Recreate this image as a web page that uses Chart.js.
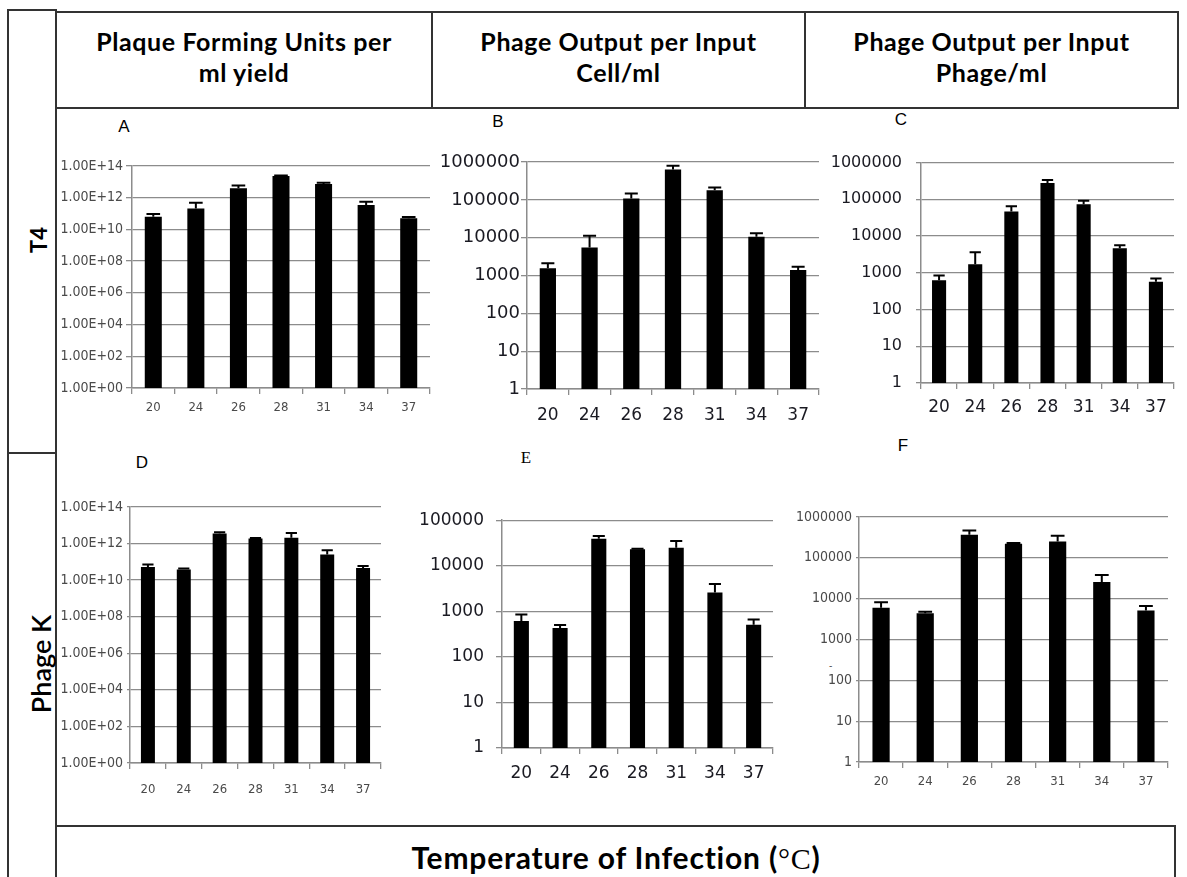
<!DOCTYPE html>
<html>
<head>
<meta charset="utf-8">
<script src="https://cdn.jsdelivr.net/npm/chart.js@4.4.1/dist/chart.umd.min.js"></script>
<style>
  html, body { margin:0; padding:0; background:#fff; }
  body { width:1187px; height:877px; position:relative; overflow:hidden; }
  .ln { position:absolute; background:#333; }
  .txt { position:absolute; white-space:nowrap; color:#000; }
  .hdr { font-family: Lato, "Open Sans", sans-serif; font-weight:700; font-size:25px; letter-spacing:0.6px; text-align:center; line-height:31px; }
  .let { font-family: "Liberation Sans", Arial, sans-serif; font-size:17px; transform:translate(-50%,-50%); }
  canvas { position:absolute; }
</style>
</head>
<body>
<!-- frame lines -->
<div class="ln" style="left:7px;top:9px;width:2px;height:870px"></div>
<div class="ln" style="left:7px;top:9px;width:50px;height:2px"></div>
<div class="ln" style="left:55px;top:9px;width:2px;height:870px"></div>
<div class="ln" style="left:7px;top:452px;width:50px;height:2px"></div>
<div class="ln" style="left:55px;top:11px;width:1124px;height:2px"></div>
<div class="ln" style="left:55px;top:107px;width:1124px;height:2px"></div>
<div class="ln" style="left:1177px;top:11px;width:2px;height:98px"></div>
<div class="ln" style="left:431px;top:11px;width:2px;height:98px"></div>
<div class="ln" style="left:804px;top:11px;width:2px;height:98px"></div>
<div class="ln" style="left:55px;top:825px;width:1121px;height:2px"></div>
<div class="ln" style="left:1174px;top:825px;width:2px;height:60px"></div>

<!-- header texts -->
<div class="txt hdr" style="left:57px;top:26px;width:374px;">Plaque Forming Units per<br>ml yield</div>
<div class="txt hdr" style="left:433px;top:26px;width:371px;">Phage Output per Input<br>Cell/ml</div>
<div class="txt hdr" style="left:806px;top:26px;width:371px;">Phage Output per Input<br>Phage/ml</div>

<!-- row labels -->
<div class="txt" style="left:38px;top:240px;transform:translate(-50%,-50%) rotate(-90deg);font-family:Lato,sans-serif;font-weight:700;font-size:22px;">T4</div>
<div class="txt" style="left:40px;top:664px;transform:translate(-50%,-50%) rotate(-90deg);font-family:Lato,sans-serif;font-weight:600;font-size:27px;">Phage K</div>

<!-- bottom title -->
<div class="txt" style="left:616px;top:857px;transform:translate(-50%,-50%);font-family:Lato,sans-serif;font-weight:700;font-size:30px;letter-spacing:0.8px;">Temperature of Infection (<span style="font-family:'Liberation Serif',serif;font-weight:400;">°C</span>)</div>

<!-- panel letters -->
<div class="txt let" style="left:124px;top:127px;">A</div>
<div class="txt let" style="left:498px;top:122px;">B</div>
<div class="txt let" style="left:901px;top:120px;">C</div>
<div class="txt let" style="left:142px;top:463px;">D</div>
<div class="txt let" style="left:526px;top:458px;font-family:'Liberation Serif',serif;">E</div>
<div class="txt let" style="left:903px;top:446px;">F</div>
<div class="txt" style="left:829px;top:660px;font-family:'Liberation Sans',sans-serif;font-size:10px;color:#555;">-</div>

<script>
// ---------------- DATA ----------------
const temperatures = ['20', '24', '26', '28', '31', '34', '37'];

// T4 (top row)
const t4Pfu        = [6.3e10, 2.1e11, 3.9e12, 2.3e13, 7.3e12, 3.5e11, 5.0e10];
const t4PfuErrTop  = [9.3e10, 4.9e11, 5.8e12, 2.5e13, 8.9e12, 5.6e11, 6.0e10];
const t4PerCell       = [1550, 5500, 108000, 630000, 178000, 10500, 1400];
const t4PerCellErrTop = [2100, 11200, 148000, 790000, 212000, 13000, 1700];
const t4PerPhage       = [630, 1700, 47000, 280000, 74000, 4650, 570];
const t4PerPhageErrTop = [850, 3650, 65000, 335000, 91000, 5650, 700];

// Phage K (bottom row)
const kPfu        = [5.2e10, 3.8e10, 3.5e12, 1.9e12, 2.1e12, 2.5e11, 4.6e10];
const kPfuErrTop  = [7.1e10, 4.3e10, 4.2e12, 2.0e12, 3.8e12, 4.3e11, 5.9e10];
const kPerCell       = [615, 430, 39000, 23000, 24700, 2600, 505];
const kPerCellErrTop = [850, 500, 45000, 23500, 35000, 4000, 665];
const kPerPhage       = [6000, 4400, 370000, 222000, 252000, 25700, 5100];
const kPerPhageErrTop = [8200, 4800, 470000, 230000, 347000, 38000, 6600];

// tick labels
const pfuTicks = [1e0, 1e2, 1e4, 1e6, 1e8, 1e10, 1e12, 1e14];
const ratioTicks6 = [1, 10, 100, 1000, 10000, 100000, 1000000];
const ratioTicks5 = [1, 10, 100, 1000, 10000, 100000];

// ---------------- HELPERS ----------------
function fmtExp(v) {
  const e = Math.round(Math.log10(v));
  const m = v / Math.pow(10, e);
  return m.toFixed(2) + 'E+' + String(e).padStart(2, '0');
}
function fmtPlain(v) { return String(Math.round(v)); }

const errorBars = {
  id: 'errorBars',
  afterDatasetsDraw(chart) {
    const ctx = chart.ctx, ys = chart.scales.y;
    chart.data.datasets.forEach((ds, di) => {
      const meta = chart.getDatasetMeta(di);
      meta.data.forEach((bar, i) => {
        const top = ds.errTops[i];
        if (top == null) return;
        const yTop = ys.getPixelForValue(top);
        const yVal = ys.getPixelForValue(ds.data[i]);
        const half = bar.width * 0.4;
        ctx.save();
        ctx.strokeStyle = '#000';
        ctx.lineWidth = 2;
        ctx.beginPath();
        ctx.moveTo(bar.x, yVal);
        ctx.lineTo(bar.x, yTop);
        ctx.moveTo(bar.x - half, yTop);
        ctx.lineTo(bar.x + half, yTop);
        ctx.stroke();
        ctx.restore();
      });
    });
  }
};

const NARROW = '"Liberation Sans Narrow", "DejaVu Sans Condensed", "Liberation Sans", sans-serif';
const WIDE = '"DejaVu Sans", "Liberation Sans", sans-serif';
const GRID = '#8c8c8c';

function makeChart(p) {
  const [l, t, r, b] = p.rect;
  const yW = 110, xH = 48, padT = 14, padR = 4;
  const cv = document.createElement('canvas');
  const w = (r - l) + yW + padR, h = (b - t) + padT + xH;
  cv.width = w; cv.height = h;
  cv.style.left = (l - yW) + 'px';
  cv.style.top = (t - padT) + 'px';
  cv.style.width = w + 'px'; cv.style.height = h + 'px';
  document.body.appendChild(cv);
  new Chart(cv, {
    type: 'bar',
    data: {
      labels: temperatures,
      datasets: [{
        data: p.values,
        errTops: p.tops,
        backgroundColor: '#000',
        borderWidth: 0,
        barPercentage: p.bar,
        categoryPercentage: 1
      }]
    },
    options: {
      responsive: false,
      animation: false,
      events: [],
      layout: { padding: { top: padT, right: padR, left: 0, bottom: 0 } },
      plugins: { legend: { display: false }, tooltip: { enabled: false } },
      scales: {
        x: {
          type: 'category',
          offset: true,
          afterFit: s => { s.height = xH; },
          grid: { offset: true, drawOnChartArea: false, drawTicks: true, tickLength: 6, color: GRID, lineWidth: 1.3 },
          border: { display: true, color: GRID, width: 1.5 },
          ticks: { font: p.xFont, color: p.color, padding: p.xPad, maxRotation: 0, autoSkip: false }
        },
        y: {
          type: 'logarithmic',
          min: p.ticks[0],
          max: p.ticks[p.ticks.length - 1],
          afterFit: s => { s.width = yW; },
          afterBuildTicks: s => { s.ticks = p.ticks.map(v => ({ value: v })); },
          grid: { color: GRID, lineWidth: 1.3, drawTicks: true, tickLength: p.yTick },
          border: { display: true, color: GRID, width: 1.5 },
          ticks: {
            font: p.yFont, color: p.color, padding: p.yPad, autoSkip: false,
            callback: v => p.fmt(v)
          }
        }
      }
    },
    plugins: [errorBars]
  });
}

const panels = [
  { rect: [132, 166, 430, 388], values: t4Pfu, tops: t4PfuErrTop, ticks: pfuTicks, fmt: fmtExp,
    yFont: { family: NARROW, size: 14 }, xFont: { family: NARROW, size: 13 }, color: '#4a4a4a',
    yTick: 6, yPad: 3, xPad: 6, bar: 0.4 },
  { rect: [527, 162, 819, 389], values: t4PerCell, tops: t4PerCellErrTop, ticks: ratioTicks6, fmt: fmtPlain,
    yFont: { family: WIDE, size: 18 }, xFont: { family: WIDE, size: 17 }, color: '#1a1a22',
    yTick: 6, yPad: 1, xPad: 10, bar: 0.39 },
  { rect: [921, 153, 1174, 383], values: t4PerPhage, tops: t4PerPhageErrTop, ticks: ratioTicks6, fmt: fmtPlain,
    yFont: { family: WIDE, size: 16 }, xFont: { family: WIDE, size: 17 }, color: '#1a1a22',
    yTick: 5, yPad: 14, xPad: 8, bar: 0.39 },
  { rect: [130, 507, 381, 763], values: kPfu, tops: kPfuErrTop, ticks: pfuTicks, fmt: fmtExp,
    yFont: { family: NARROW, size: 14 }, xFont: { family: NARROW, size: 13 }, color: '#4a4a4a',
    yTick: 3, yPad: 4, xPad: 13, bar: 0.39 },
  { rect: [502, 512, 773, 748], values: kPerCell, tops: kPerCellErrTop, ticks: ratioTicks5, fmt: fmtPlain,
    yFont: { family: WIDE, size: 17 }, xFont: { family: WIDE, size: 17 }, color: '#1a1a22',
    yTick: 6, yPad: 12, xPad: 9, bar: 0.39 },
  { rect: [859, 517, 1168, 762], values: kPerPhage, tops: kPerPhageErrTop, ticks: ratioTicks6, fmt: fmtPlain,
    yFont: { family: NARROW, size: 14 }, xFont: { family: NARROW, size: 13 }, color: '#4a4a4a',
    yTick: 3, yPad: 4, xPad: 6, bar: 0.39 }
];

panels.forEach(makeChart);
</script>
</body>
</html>
